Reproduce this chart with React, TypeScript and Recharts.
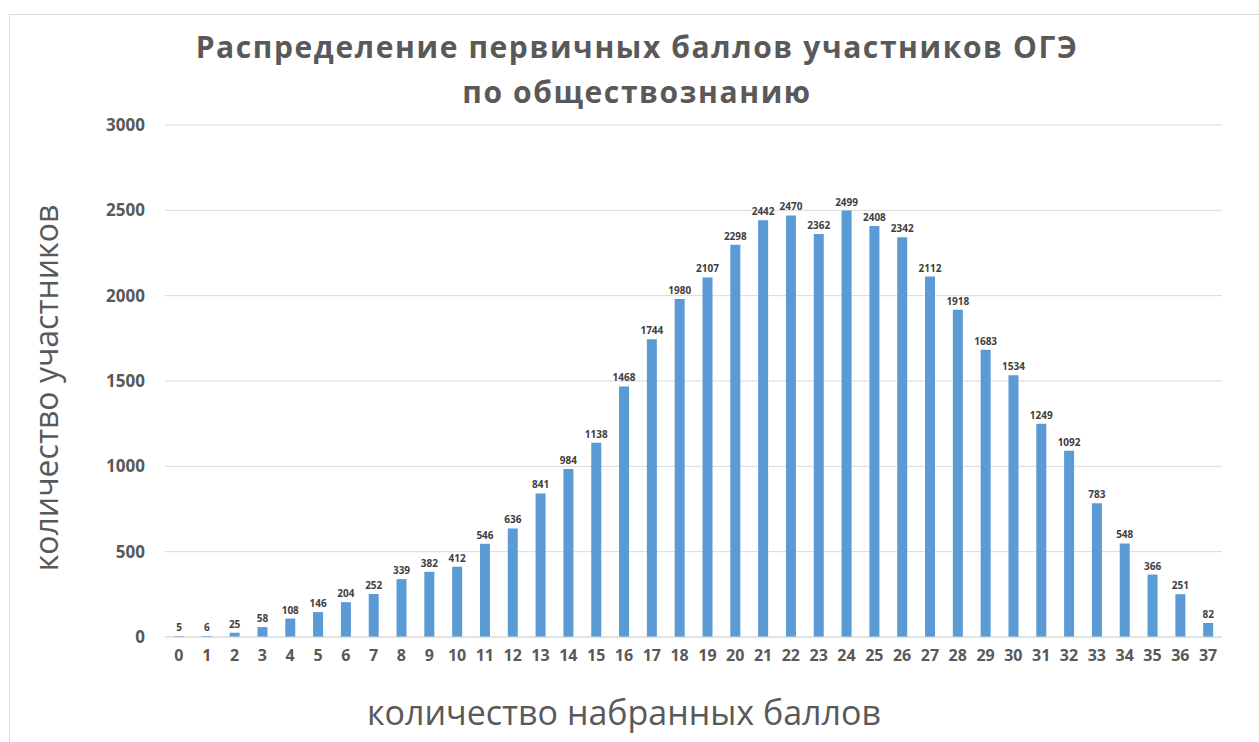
import React from "react";
import { BarChart, Bar, XAxis, YAxis, CartesianGrid, LabelList } from "recharts";

const scores = [
  "0","1","2","3","4","5","6","7","8","9","10","11","12","13","14","15","16","17","18",
  "19","20","21","22","23","24","25","26","27","28","29","30","31","32","33","34","35","36","37",
];
const participants = [
  5, 6, 25, 58, 108, 146, 204, 252, 339, 382, 412, 546, 636, 841, 984, 1138, 1468, 1744, 1980,
  2107, 2298, 2442, 2470, 2362, 2499, 2408, 2342, 2112, 1918, 1683, 1534, 1249, 1092, 783, 548, 366, 251, 82,
];
const yTicks = [0, 500, 1000, 1500, 2000, 2500, 3000];
const titleLines = ["Распределение первичных баллов участников ОГЭ", "по обществознанию"];
const yLabel = "количество участников";
const xLabel = "количество набранных баллов";

const data = scores.map((s, i) => ({ score: s, value: participants[i] }));

export default function App() {
  return (
    <div style={{ position: "absolute", left: 0, top: 0, width: 1259, height: 742, background: "#fff", overflow: "hidden" }}>
      <div style={{ position: "absolute", left: 9, top: 14, width: 1260, height: 740, borderTop: "1px solid #d9d9d9", borderLeft: "1px solid #d9d9d9" }} />
      <BarChart
        width={1259}
        height={742}
        data={data}
        margin={{ top: 125, right: 37, bottom: 75, left: 105 }}
        barSize={10}
      >
        <CartesianGrid vertical={false} stroke="#d9d9d9" />
        <XAxis
          dataKey="score"
          height={30}
          interval={0}
          tickLine={false}
          axisLine={{ stroke: "#d9d9d9" }}
          tickSize={0}
          tickMargin={13}
          tick={{ fill: "#595959", fontSize: 16, fontWeight: "bold", fontFamily: "Open Sans" }}
        />
        <YAxis
          width={60}
          domain={[0, 3000]}
          ticks={yTicks}
          interval={0}
          tickLine={false}
          axisLine={false}
          tickSize={0}
          tickMargin={20}
          tick={{ fill: "#595959", fontSize: 17, fontWeight: "bold", fontFamily: "Open Sans" }}
        />
        <Bar dataKey="value" fill="#5b9bd5" isAnimationActive={false}>
          <LabelList
            dataKey="value"
            position="top"
            offset={5}
            style={{ fill: "#404040", fontSize: 10, fontWeight: "bold", fontFamily: "Open Sans" }}
          />
        </Bar>
      </BarChart>
      <div
        style={{
          position: "absolute",
          left: 0,
          width: 1274,
          top: 24,
          textAlign: "center",
          fontFamily: "Open Sans",
          fontWeight: "bold",
          fontSize: 30,
          lineHeight: "45px",
          color: "#595959",
          letterSpacing: 1.6,
        }}
      >
        {titleLines.map((t) => (
          <div key={t}>{t}</div>
        ))}
      </div>
      <div
        style={{
          position: "absolute",
          left: 45,
          top: 388,
          transform: "translate(-50%, -50%) rotate(-90deg)",
          whiteSpace: "nowrap",
          fontFamily: "Open Sans",
          fontSize: 32,
          color: "#595959",
        }}
      >
        {yLabel}
      </div>
      <div
        style={{
          position: "absolute",
          left: 624,
          top: 712,
          transform: "translate(-50%, -50%)",
          whiteSpace: "nowrap",
          fontFamily: "Open Sans",
          fontSize: 34,
          color: "#595959",
        }}
      >
        {xLabel}
      </div>
    </div>
  );
}
